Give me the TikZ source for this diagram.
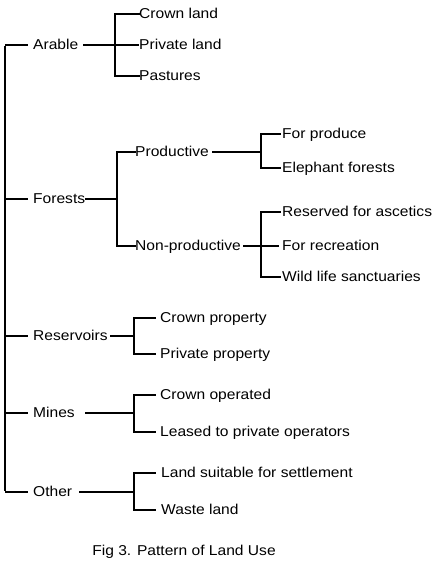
\documentclass[tikz,border=0pt]{standalone}
\usepackage{fontspec}
\setmainfont{Liberation Sans}[FakeStretch=1.09]
\begin{document}
\begin{tikzpicture}[x=1pt,y=-1pt,
  every node/.style={font=\fontsize{14.3}{17}\selectfont},
  lbl/.style={anchor=base west, inner sep=0pt, yshift=-4.8pt},
  thk/.style={line width=1.9pt, line cap=rect},
  thn/.style={line width=1.1pt},
]
\useasboundingbox (0,0) rectangle (440,564);
% level 1 labels
\node[lbl] (arable) at (33,45) {Arable};
\node[lbl] (forests) at (33,199) {Forests};
\node[lbl] (reservoirs) at (33,336) {Reservoirs};
\node[lbl] (mines) at (33,413) {Mines};
\node[lbl] (other) at (33,492) {Other};
% trunk coordinates
\coordinate (t1) at (5,45);
\coordinate (t2) at (5,199);
\coordinate (t3) at (5,336);
\coordinate (t4) at (5,413);
\coordinate (t5) at (5,492);
\coordinate (a1) at (28,45);
\coordinate (a2) at (28,199);
\coordinate (a3) at (28,336);
\coordinate (a4) at (28,413);
\coordinate (a5) at (28,492);
\draw[thk,line cap=butt] ([yshift=-1pt]t1) -- ([yshift=1pt]t5);
\draw[thn] (t1) -- (a1);
\draw[thk,line cap=butt] (t2) -- (a2);
\draw[thn] (t3) -- (a3);
\draw[thk,line cap=butt] (t4) -- (a4);
\draw[thk,line cap=butt] (t5) -- (a5);

% Arable
\node[lbl] (crownland) at (139,14) {Crown land};
\node[lbl] (privateland) at (139,45) {Private land};
\node[lbl] (pastures) at (139,76) {Pastures};
\coordinate (ab) at (115,45);
\coordinate (ae) at (83,45);
\coordinate (c1) at (139,14);
\coordinate (c2) at (139,45);
\coordinate (c3) at (139,76);
\draw[thn] (ae) -- (ab) -- (c2);
\draw[thk] (c1) -| (ab |- c3) -- (c3);

% Forests
\node[lbl] (productive) at (135,152) {Productive};
\node[lbl] (nonproductive) at (135,246) {Non-productive};
\coordinate (fe) at (85,199);
\coordinate (fb) at (117,199);
\coordinate (p1) at (135,152);
\coordinate (p2) at (135,246);
\draw[thk,line cap=butt] (fe) -- (fb);
\draw[thk] (p1) -| (fb |- p2) -- (p2);

\node[lbl] (produce) at (282,134) {For produce};
\node[lbl] (elephant) at (282,168) {Elephant forests};
\coordinate (pe) at (212,152);
\coordinate (pb) at (261,152);
\coordinate (q1) at (280,134);
\coordinate (q2) at (280,168);
\draw[thk,line cap=butt] (pe) -- (pb);
\draw[thk] (q1) -| (pb |- q2) -- (q2);

\node[lbl] (ascetics) at (282,212) {Reserved for ascetics};
\node[lbl] (recreation) at (282,246) {For recreation};
\node[lbl] (wildlife) at (282,277) {Wild life sanctuaries};
\coordinate (ne) at (243,246);
\coordinate (nb) at (261,246);
\coordinate (r1) at (280,212);
\coordinate (r2) at (279,246);
\coordinate (r3) at (280,277);
\draw[thn] (ne) -- (nb) -- (r2);
\draw[thk] (r1) -| (nb |- r3) -- (r3);

% Reservoirs
\node[lbl] (crownprop) at (160,318) {Crown property};
\node[lbl] (privprop) at (160,354) {Private property};
\coordinate (re) at (110,336);
\coordinate (rb) at (134,336);
\coordinate (s1) at (155,318);
\coordinate (s2) at (155,354);
\draw[thn] (re) -- (rb);
\draw[thk] (s1) -| (rb |- s2) -- (s2);

% Mines
\node[lbl] (crownop) at (160,395) {Crown operated};
\node[lbl] (leased) at (160,432) {Leased to private operators};
\coordinate (me) at (85,413);
\coordinate (mb) at (134,413);
\coordinate (u1) at (155,395);
\coordinate (u2) at (155,432);
\draw[thk,line cap=butt] (me) -- (mb);
\draw[thk] (u1) -| (mb |- u2) -- (u2);

% Other
\node[lbl] (settle) at (161,473) {Land suitable for settlement};
\node[lbl] (waste) at (161,510) {Waste land};
\coordinate (oe) at (79,492);
\coordinate (ob) at (134,492);
\coordinate (v1) at (155,473);
\coordinate (v2) at (155,510);
\draw[thk,line cap=butt] (oe) -- (ob);
\draw[thk] (v1) -| (ob |- v2) -- (v2);

% caption
\node[anchor=base, inner sep=0pt] (caption) at (184,555) {Fig 3. Pattern of Land Use};
\end{tikzpicture}
\end{document}
